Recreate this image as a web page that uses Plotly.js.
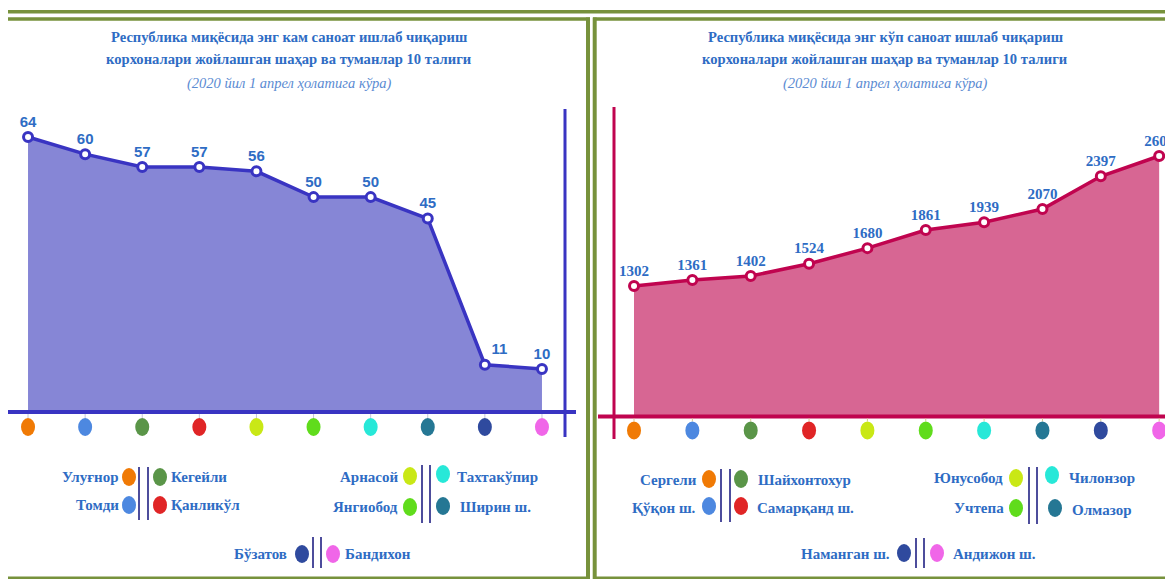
<!DOCTYPE html>
<html>
<head>
<meta charset="utf-8">
<script src="https://cdn.plot.ly/plotly-3.0.1.min.js"></script>
<style>html,body{margin:0;padding:0;background:#fff;}#chart{width:1165px;height:579px;}</style>
</head>
<body>
<div id="chart"></div>
<script>
// ---------- DATA ----------
const leftTitle = ["Республика миқёсида энг кам саноат ишлаб чиқариш", "корхоналари жойлашган шаҳар ва туманлар 10 талиги", "(2020 йил 1 апрел ҳолатига кўра)"];
const rightTitle = ["Республика миқёсида энг кўп саноат ишлаб чиқариш", "корхоналари жойлашган шаҳар ва туманлар 10 талиги", "(2020 йил 1 апрел ҳолатига кўра)"];
const leftCategories = ["Улуғнор", "Томди", "Кегейли", "Қанликўл", "Арнасой", "Янгиобод", "Тахтакўпир", "Ширин ш.", "Бўзатов", "Бандихон"];
const leftValues = [64, 60, 57, 57, 56, 50, 50, 45, 11, 10];
const rightCategories = ["Сергели", "Қўқон ш.", "Шайхонтохур", "Самарқанд ш.", "Юнусобод", "Учтепа", "Чилонзор", "Олмазор", "Наманган ш.", "Андижон ш."];
const rightValues = [1302, 1361, 1402, 1524, 1680, 1861, 1939, 2070, 2397, 2600];
const categoryColors = ["#f07a05", "#4d88e0", "#5a9548", "#e02526", "#c9e816", "#60dc1c", "#27e8d8", "#257794", "#2f4a9e", "#f066e8"];

// ---------- LAYOUT HELPERS ----------
const W = 1165, H = 579;
const px = x => x / W;
const py = y => 1 - y / H;
const GREEN = "#77923c";
const TEXTBLUE = "#2e6cc4";
const LEFTLINE = "#3934c2", LEFTFILL = "#8686d6";
const RIGHTLINE = "#c0044f", RIGHTFILL = "#d76693";
const DIVIDER = "#4d4d9c";

// legend slot positions (pixel) : [ovalX, ovalY, textX, textY, side]
const leftSlots = [
  [129, 477, 121, 477, "r"], [129, 505, 121, 505, "r"],
  [160, 477, 169, 477, "l"], [160, 505, 169, 505, "l"],
  [410, 476, 400, 477, "r"], [410, 507, 400, 507, "r"],
  [443, 474, 455, 477, "l"], [443, 506, 458, 507, "l"],
  [302, 554, 289, 554, "r"], [333, 554, 343, 554, "l"]
];
const leftDividers = [[139, 148, 467, 520], [422, 430, 465, 523], [313, 321, 537, 568]];
const rightSlots = [
  [709, 479, 699, 480, "r"], [709, 506, 698, 508, "r"],
  [741, 479, 756, 480, "l"], [741, 506, 755, 508, "l"],
  [1016, 478, 1005, 478, "r"], [1016, 508, 1006, 508, "r"],
  [1052, 475, 1067, 478, "l"], [1055, 508, 1070, 510, "l"],
  [904, 553, 892, 554, "r"], [937, 553, 951, 554, "l"]
];
const rightDividers = [[721, 730, 469, 522], [1029, 1037, 467, 524], [916, 924, 538, 568]];

const serif = "Liberation Serif, Times New Roman, serif";

const leftTextPos = leftValues.map((v, i) => i === 8 ? "top right" : "top center");

const traces = [
  {
    type: "scatter", x: leftCategories, y: leftValues, xaxis: "x", yaxis: "y",
    mode: "lines+markers+text", fill: "tozeroy", fillcolor: LEFTFILL,
    line: {color: LEFTLINE, width: 3.5},
    marker: {size: 9, color: "#ffffff", line: {color: LEFTLINE, width: 3}},
    text: leftValues.map(String), textposition: leftTextPos,
    textfont: {family: "Liberation Sans Narrow, Arial Narrow, Liberation Sans, sans-serif", size: 15, color: TEXTBLUE, weight: "bold"},
    cliponaxis: false, hoverinfo: "x+y"
  },
  {
    type: "scatter", x: rightCategories, y: rightValues, xaxis: "x2", yaxis: "y2",
    mode: "lines+markers+text", fill: "tozeroy", fillcolor: RIGHTFILL,
    line: {color: RIGHTLINE, width: 3.5},
    marker: {size: 9, color: "#ffffff", line: {color: RIGHTLINE, width: 3}},
    text: rightValues.map(String), textposition: "top center",
    textfont: {family: serif, size: 15, color: TEXTBLUE, weight: "bold"},
    cliponaxis: false, hoverinfo: "x+y"
  }
];

const shapes = [];
const annotations = [];

// frame
const frame = (x0, y0, x1, y1, w) => shapes.push({type: "line", xref: "paper", yref: "paper", x0: px(x0), y0: py(y0), x1: px(x1), y1: py(y1), line: {color: GREEN, width: w}});
frame(8, 11.7, 1165, 11.7, 3.5);
frame(8, 19, 590, 19, 3.5);
frame(593, 19, 1165, 19, 3.5);
frame(588, 17.5, 588, 579, 4);
frame(594.7, 17.5, 594.7, 579, 4);
frame(8, 578, 588, 578, 3);
frame(595, 578, 1165, 578, 3);

// axis lines
shapes.push({type: "line", xref: "paper", yref: "y", x0: px(8), x1: px(576), y0: 0, y1: 0, line: {color: LEFTLINE, width: 4}});
shapes.push({type: "line", xref: "paper", yref: "paper", x0: px(565), x1: px(565), y0: py(109), y1: py(437), line: {color: LEFTLINE, width: 3}});
shapes.push({type: "line", xref: "paper", yref: "y2", x0: px(598), x1: 1, y0: 0, y1: 0, line: {color: RIGHTLINE, width: 4}});
shapes.push({type: "line", xref: "paper", yref: "paper", x0: px(614), x1: px(614), y0: py(107), y1: py(439), line: {color: RIGHTLINE, width: 3}});

// category ovals under axes (with faint connectors)
function axisOvals(cats, xr, yr, y0, y1, tickColor) {
  cats.forEach((c, i) => {
    shapes.push({type: "line", xref: xr, yref: yr, ysizemode: "pixel", yanchor: 0,
      x0: i, x1: i, y0: y1, y1: -2, line: {color: tickColor, width: 1}});
    shapes.push({
      type: "circle", xref: xr, yref: yr, xsizemode: "pixel", ysizemode: "pixel",
      xanchor: i, yanchor: 0, x0: -7, x1: 7, y0: y0, y1: y1,
      fillcolor: categoryColors[i], line: {width: 0}
    });
  });
}
axisOvals(leftCategories, "x", "y", -24, -6, "#c4c4d8");
axisOvals(rightCategories, "x2", "y2", -23, -5, "#d8c890");

// legends
function buildLegend(names, slots, dividers) {
  names.forEach((name, i) => {
    const [ox, oy, tx, ty, side] = slots[i];
    shapes.push({type: "circle", xref: "paper", yref: "paper",
      x0: px(ox - 7), x1: px(ox + 7), y0: py(oy + 9), y1: py(oy - 9),
      fillcolor: categoryColors[i], line: {width: 0}});
    annotations.push({xref: "paper", yref: "paper", x: px(tx), y: py(ty),
      xanchor: side === "r" ? "right" : "left", yanchor: "middle", showarrow: false,
      text: "<b>" + name + "</b>", font: {family: serif, size: 15, color: TEXTBLUE}});
  });
  dividers.forEach(d => {
    [d[0], d[1]].forEach(x => shapes.push({type: "line", xref: "paper", yref: "paper",
      x0: px(x), x1: px(x), y0: py(d[2]), y1: py(d[3]), line: {color: DIVIDER, width: 2}}));
  });
}
buildLegend(leftCategories, leftSlots, leftDividers);
buildLegend(rightCategories, rightSlots, rightDividers);

// titles
function buildTitle(lines, cx) {
  const ys = [37, 59, 83];
  lines.forEach((t, i) => annotations.push({
    xref: "paper", yref: "paper", x: px(cx), y: py(ys[i]), xanchor: "center", yanchor: "middle",
    showarrow: false,
    text: i < 2 ? "<b>" + t + "</b>" : "<i>" + t + "</i>",
    font: {family: serif, size: i < 2 ? 14.6 : 14.5, color: i < 2 ? TEXTBLUE : "#5b8bd2"}
  }));
}
buildTitle(leftTitle, 289);
buildTitle(rightTitle, 885);

const axisCommon = {showgrid: false, zeroline: false, showticklabels: false, showline: false, fixedrange: true, ticks: ""};

const layout = {
  width: W, height: H,
  margin: {l: 0, r: 0, t: 0, b: 0},
  paper_bgcolor: "#ffffff", plot_bgcolor: "rgba(0,0,0,0)",
  showlegend: false,
  xaxis: Object.assign({}, axisCommon, {domain: [px(10.9), px(559.1)], range: [-0.3, 9.3], type: "category", anchor: "y"}),
  yaxis: Object.assign({}, axisCommon, {domain: [py(442), py(100)], range: [-(30 / 4.296), 72.6], anchor: "x"}),
  xaxis2: Object.assign({}, axisCommon, {domain: [px(616.5), 1], range: [-0.3, 9.1], type: "category", anchor: "y2"}),
  yaxis2: Object.assign({}, axisCommon, {domain: [py(444.4), py(100)], range: [-(28 / 0.10015), 3159], anchor: "x2"}),
  shapes: shapes,
  annotations: annotations
};

Plotly.newPlot("chart", traces, layout, {displayModeBar: false, staticPlot: true});
</script>
</body>
</html>
